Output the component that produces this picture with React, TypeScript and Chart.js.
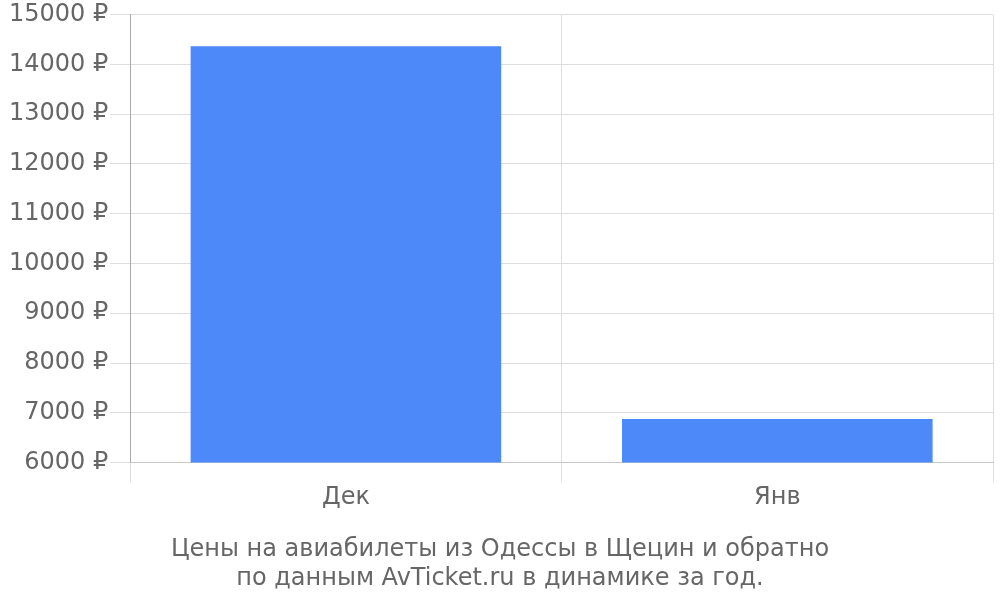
import { useEffect, useRef } from "react"
import { Chart, registerables } from "chart.js"

Chart.register(...registerables)

// Месяцы и цены (руб.)
const months = ["Дек", "Янв"]
const prices = [14360, 6875]
const titleLines = [
  "Цены на авиабилеты из Одессы в Щецин и обратно",
  "по данным AvTicket.ru в динамике за год.",
]

export default function App() {
  const chartRef = useRef<HTMLCanvasElement>(null)
  const chartInstance = useRef<Chart | null>(null)

  useEffect(() => {
    document.body.style.margin = "0"
    if (!chartRef.current) return
    if (chartInstance.current) chartInstance.current.destroy()

    const ctx = chartRef.current.getContext("2d")
    if (!ctx) return

    const font = { family: "'DejaVu Sans', sans-serif", size: 24, lineHeight: 1.2 }

    chartInstance.current = new Chart(ctx, {
      type: "bar",
      data: {
        labels: months,
        datasets: [
          {
            data: prices,
            backgroundColor: "#4d89f9",
          },
        ],
      },
      options: {
        animation: false,
        responsive: true,
        maintainAspectRatio: false,
        layout: { padding: { left: 7, right: 7, top: 0 } },
        plugins: {
          legend: { display: false },
          tooltip: { enabled: false },
          title: {
            display: true,
            position: "bottom",
            text: titleLines,
            color: "#666",
            font: { ...font, weight: "normal" },
            padding: { top: 22, bottom: 7 },
          },
        },
        scales: {
          x: {
            grid: { color: "#dedede", tickLength: 20 },
            border: { color: "#c8c8c8" },
            ticks: { color: "#666", font, padding: 1 },
          },
          y: {
            min: 6000,
            max: 15000,
            grid: { color: "#dedede", tickLength: 20 },
            border: { color: "#aaa" },
            ticks: {
              stepSize: 1000,
              color: "#666",
              font: { ...font, lineHeight: 1.04 },
              padding: 2,
              callback: (v) => `${v} ₽`,
            },
          },
        },
      },
    })

    return () => {
      if (chartInstance.current) {
        chartInstance.current.destroy()
        chartInstance.current = null
      }
    }
  }, [])

  return (
    <div style={{ width: 1000, height: 600, position: "relative" }}>
      <canvas ref={chartRef} />
    </div>
  )
}
